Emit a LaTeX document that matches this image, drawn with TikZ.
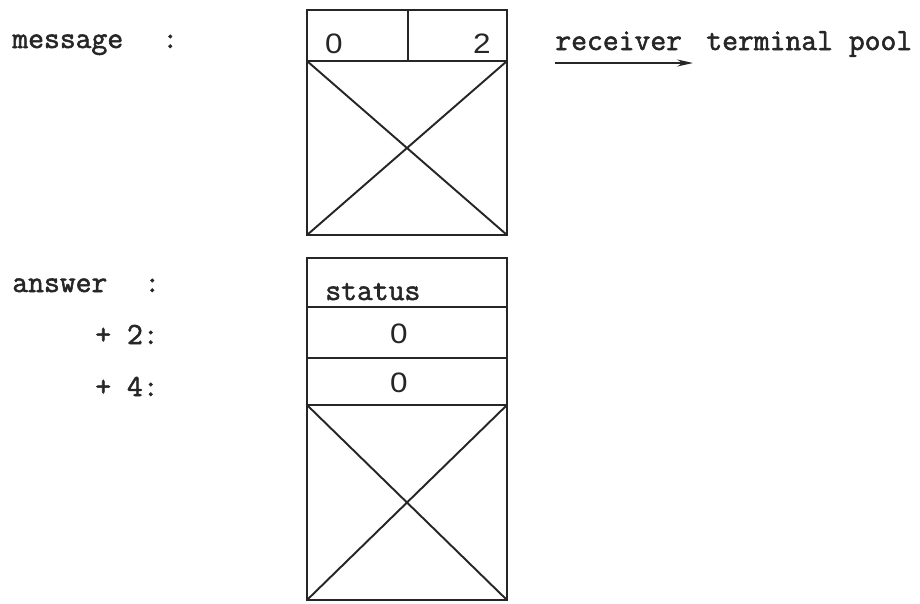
\documentclass[tikz,border=0pt]{standalone}
\usepackage{fontspec}
\setmainfont{Liberation Sans}
\newfontfamily\typewriter[FakeBold=1.8]{Latin Modern Mono}
\newfontfamily\digits{Liberation Sans}
\usetikzlibrary{arrows.meta}
\begin{document}
\begin{tikzpicture}[x=0.02cm, y=-0.02cm,
  frame/.style={line width=1.1pt, draw=black!85},
  lbl/.style={font=\fontsize{17.5}{20}\selectfont\typewriter, anchor=base west, inner sep=0, text=black!85},
  num/.style={font=\fontsize{16}{18}\selectfont\digits, anchor=base, inner sep=0, text=black!85, xscale=1.12}]
\useasboundingbox (0,0) rectangle (920,603);

% message buffer: two header words over a reserved area
\draw[frame] (307,10) rectangle (507,235);
\draw[frame] (307,61) -- (507,61);
\draw[frame] (408,10) -- (408,61);
\draw[frame] (307,61) -- (507,235) (507,61) -- (307,235);
\node[num] (m0) at (334,53) {0};
\node[num] (m2) at (482,53) {2};

% answer buffer: status and two zero words over a reserved area
\draw[frame] (307,258) rectangle (507,600);
\draw[frame] (307,307) -- (507,307);
\draw[frame] (307,358) -- (507,358);
\draw[frame] (307,405) -- (507,405);
\draw[frame] (307,405) -- (507,600) (507,405) -- (307,600);
\node[lbl] (st) at (325,300) {status};
\node[num] (a2) at (399,343) {0};
\node[num] (a4) at (399,392) {0};

% left-hand labels
\node[lbl] (msg) at (12,48) {message};
\node[lbl] (msgc) at (162,48) {:};
\node[lbl] (ans) at (12,292) {answer};
\node[lbl] (ansc) at (144,292) {:};
\node[lbl] (p2) at (95,344) {+ 2:};
\node[lbl] (p4) at (95,396) {+ 4:};

% receiver description
\node[lbl] (rcv) at (555,50) {receiver};
\node[lbl] (tp) at (706,50) {terminal pool};
\coordinate (rend) at (693,63);
\draw[line width=1pt, draw=black!85, -{Stealth[length=9pt,width=4pt]}] (rcv.base west |- rend) -- (rend);
\end{tikzpicture}
\end{document}
